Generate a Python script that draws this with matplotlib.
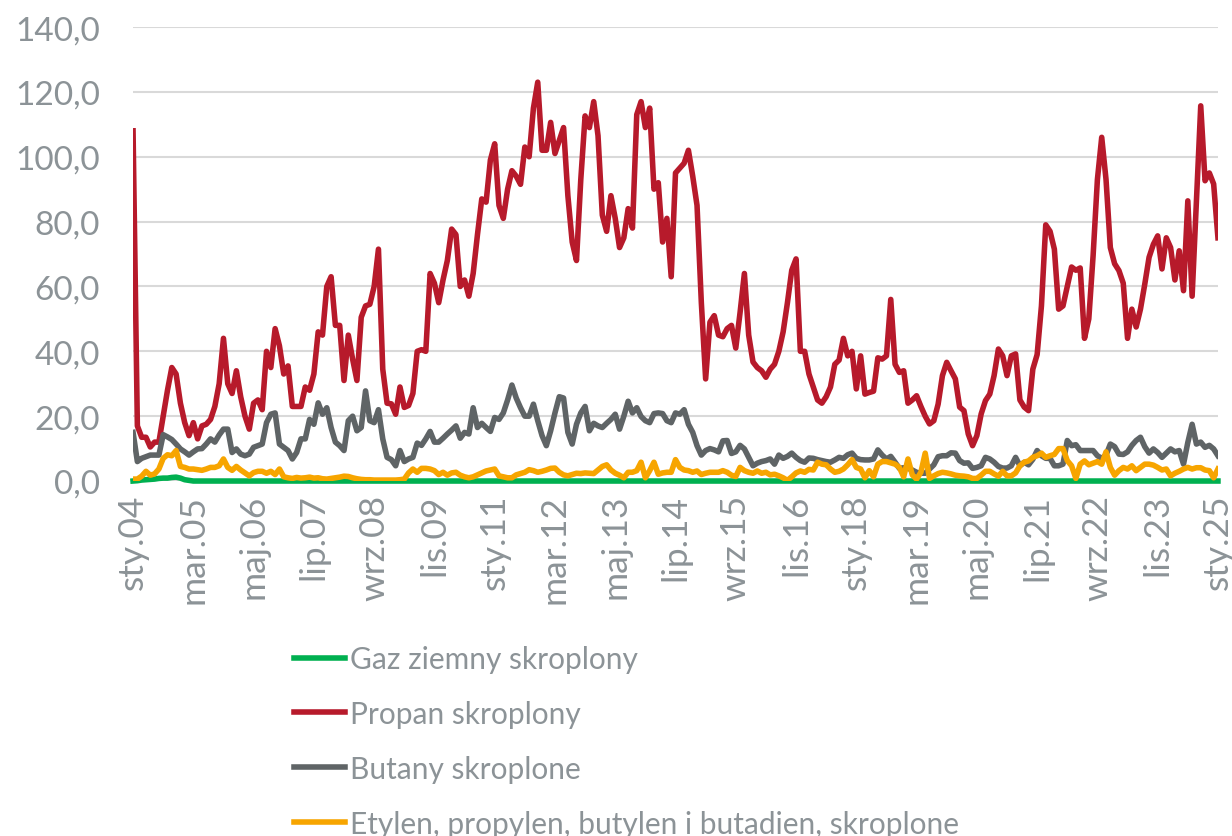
import numpy as np
import matplotlib
matplotlib.use("Agg")
import matplotlib.pyplot as plt

plt.rcParams['font.family'] = ['Lato', 'DejaVu Sans']

# monthly series, sty.2004 - sty.2025
gaz = [0, 0.1, 0.3, 0.4, 0.5, 0.6, 0.8, 0.9, 0.9, 1.1,
       1.2, 0.9, 0.4, 0.2, 0, 0, 0, 0, 0, 0,
       0, 0, 0, 0, 0, 0, 0, 0, 0, 0,
       0, 0, 0, 0, 0, 0, 0, 0, 0, 0,
       0, 0, 0, 0, 0, 0, 0, 0, 0, 0,
       0, 0, 0, 0, 0, 0, 0, 0, 0, 0,
       0, 0, 0, 0, 0, 0, 0, 0, 0, 0,
       0, 0, 0, 0, 0, 0, 0, 0, 0, 0,
       0, 0, 0, 0, 0, 0, 0, 0, 0, 0,
       0, 0, 0, 0, 0, 0, 0, 0, 0, 0,
       0, 0, 0, 0, 0, 0, 0, 0, 0, 0,
       0, 0, 0, 0, 0, 0, 0, 0, 0, 0,
       0, 0, 0, 0, 0, 0, 0, 0, 0, 0,
       0, 0, 0, 0, 0, 0, 0, 0, 0, 0,
       0, 0, 0, 0, 0, 0, 0, 0, 0, 0,
       0, 0, 0, 0, 0, 0, 0, 0, 0, 0,
       0, 0, 0, 0, 0, 0, 0, 0, 0, 0,
       0, 0, 0, 0, 0, 0, 0, 0, 0, 0,
       0, 0, 0, 0, 0, 0, 0, 0, 0, 0,
       0, 0, 0, 0, 0, 0, 0, 0, 0, 0,
       0, 0, 0, 0, 0, 0, 0, 0, 0, 0,
       0, 0, 0, 0, 0, 0, 0, 0, 0, 0,
       0, 0, 0, 0, 0, 0, 0, 0, 0, 0,
       0, 0, 0, 0, 0, 0, 0, 0, 0, 0,
       0, 0, 0, 0, 0, 0, 0, 0, 0, 0,
       0, 0, 0]

propan = [108, 17, 13.5, 13.5, 10.5, 12, 12, 20, 28, 35,
          33, 24, 18, 14, 18, 13, 17, 17.5, 19, 23,
          30, 44, 30, 27, 34, 26, 20, 16, 24, 25,
          22, 40, 35, 47, 41.7, 33, 35.5, 23, 23, 23,
          29, 28, 33, 46, 45, 60, 63, 48, 48, 31,
          45, 37.6, 31, 50.5, 54, 54.5, 60, 71.5, 34.5, 24,
          23.8, 20.6, 29, 22.7, 23.3, 27, 40, 40.5, 40, 64,
          61, 55, 62, 68, 77.7, 76, 60, 62, 57, 64,
          76, 87, 86, 99, 104, 85, 81, 90, 95.7, 94,
          91.5, 103, 100, 115, 123, 102, 102, 110.6, 101, 105,
          109, 88, 73.7, 68, 93, 112.6, 109, 117, 106.5, 82,
          77, 88, 81, 72, 75, 84, 78, 113, 117, 109,
          115, 90, 92, 73.7, 81, 63, 95, 96.5, 98, 102,
          94, 85, 55, 31.5, 49, 51, 45, 44.5, 47, 48,
          41, 52, 64, 45, 36.7, 35, 34, 32, 34.5, 36,
          40, 46, 55, 65, 68.5, 40, 40, 33, 29, 25,
          24, 26, 29, 36, 37.3, 44, 38.6, 40, 28.4, 38.6,
          26.8, 27.3, 27.7, 38, 37.6, 38.6, 56, 36, 33.5, 34,
          24, 25, 26.3, 23, 20, 17.6, 18.6, 23.7, 32.5, 36.6,
          34, 31.5, 22.8, 21.7, 14.5, 10.9, 14, 20.7, 24.8, 26.8,
          32.5, 40.7, 38.6, 32.5, 38.6, 39.2, 25, 22.8, 21.7, 34.5,
          39, 54, 79, 77, 71.5, 53, 54, 60, 66, 65,
          65.7, 44, 50, 69.5, 93, 106, 93, 72, 67, 64.9,
          61, 44, 53, 47.5, 53, 60.7, 69, 73, 75.6, 65.4,
          75, 72, 62, 71, 58.7, 86.4, 57, 86, 115.7, 92.6,
          95, 91.6, 75]

butany = [15, 6, 7, 7.5, 8, 8, 8, 14.3, 13.6, 12.8,
          11.4, 9.9, 9, 8, 9, 9.9, 10, 11.4, 13, 12,
          14.2, 16, 16, 8.8, 9.9, 8.3, 7.8, 8.3, 10.4, 10.9,
          11.4, 18, 20.6, 21, 11.4, 10.4, 9.4, 6.8, 8.8, 13,
          13, 19, 17.5, 24.1, 20.6, 22.6, 16.5, 12, 10.9, 9.4,
          18.6, 20, 15.5, 16.5, 27.8, 18.6, 18, 22, 13, 7.3,
          6.6, 4.7, 9.4, 6, 6.8, 7.3, 11.7, 11, 13, 15.3,
          12, 12, 13.2, 14.5, 15.7, 17, 13.2, 15, 14.5, 22.6,
          16.5, 17.8, 16.5, 15.3, 19.6, 19, 21, 25, 29.6, 25.6,
          22.6, 20, 20, 23.7, 18.6, 14, 10.9, 15.5, 21, 26,
          25.6, 15, 11.4, 17.5, 21, 23, 15.5, 17.8, 17, 16.5,
          17.8, 19, 20.6, 16, 20, 24.6, 21, 22.6, 19.9, 18.6,
          18, 20.8, 21, 20.8, 18.6, 18, 21, 20.6, 22, 17.5,
          15, 10.9, 8, 9.4, 10, 9.6, 9, 12.4, 12.5, 8.5,
          9, 11, 9.9, 7.3, 4.7, 5.5, 6, 6.3, 6.8, 5.2,
          8, 7, 7.6, 8.6, 7.3, 6.3, 5.8, 7.1, 7, 6.6,
          6.3, 6, 5.8, 6.5, 7.3, 7, 8.1, 8.6, 7, 6.6,
          6.5, 6.5, 6.8, 9.6, 8, 6.8, 7.6, 5.8, 3.9, 4.1,
          3.9, 3.4, 2.7, 2.4, 2.4, 3.7, 5, 7.5, 7.8, 7.8,
          8.7, 8.6, 6.3, 5.5, 5.6, 3.9, 4.2, 4.7, 7.3, 6.8,
          5.8, 4.5, 4, 4, 4.7, 7.3, 4.7, 5.8, 5, 6.7,
          9.4, 7.8, 7, 7, 4.7, 4.7, 5.2, 12.5, 10.9, 11.2,
          9.4, 9.4, 9.4, 9.4, 7.8, 7, 8, 11.4, 10.6, 8.3,
          8.2, 9, 11, 12.5, 13.5, 10.6, 8.6, 9.9, 8.8, 7.3,
          8.6, 9.9, 9, 9.4, 5.2, 11.9, 17.5, 11.4, 12, 10.4,
          11, 9.9, 7.8]

etylen = [0.6, 0.6, 1.5, 3, 1.8, 2.2, 3.7, 7, 8.1, 7.8,
          9.4, 4.5, 4.2, 3.7, 3.7, 3.5, 3.3, 3.7, 4.2, 4.2,
          4.7, 6.8, 4.2, 3.3, 4.5, 3.4, 2.5, 1.6, 2.6, 3,
          3, 2.4, 3, 2, 3.7, 1.3, 1, 0.8, 1.1, 0.9,
          1, 1.2, 0.9, 1, 0.7, 0.6, 0.8, 1, 1.2, 1.5,
          1.4, 1, 0.7, 0.5, 0.4, 0.4, 0.3, 0.3, 0.3, 0.3,
          0.3, 0.3, 0.4, 0.6, 2.5, 3.7, 2.7, 3.9, 3.9, 3.7,
          3.2, 2, 2.7, 1.8, 2.5, 2.7, 1.8, 1.3, 1, 1.3,
          1.9, 2.5, 3.1, 3.4, 3.7, 1.6, 1.3, 1, 1, 1.9,
          2.3, 2.7, 3.5, 3.2, 2.7, 3, 3.4, 3.9, 4, 2.7,
          1.9, 1.6, 2, 2.4, 2.3, 2.5, 2.4, 2.3, 3.4, 4.5,
          5, 3.4, 2.4, 1.8, 1, 2.7, 2.7, 3.2, 5.8, 1,
          3.2, 5.8, 2.1, 2.5, 2.7, 2.7, 6.6, 4.2, 3.4, 3.2,
          2.7, 3.1, 2, 2.4, 2.7, 2.7, 2.7, 3.2, 2.7, 1.8,
          1.4, 4.2, 3.2, 2.7, 2.4, 3.1, 2.4, 2.7, 1.9, 2.1,
          1.6, 1, 0.2, 1.3, 2.5, 3.1, 2.7, 3.6, 3.4, 5.8,
          5.2, 5, 3.7, 2.7, 3, 3.7, 5, 6.6, 4.2, 3.7,
          1, 3.2, 1.3, 5.2, 6, 6, 5.6, 5.2, 4.2, 1.3,
          6.8, 1.9, 0.6, 2.7, 8.6, 0.8, 1.6, 2.3, 2.7, 2.5,
          2.2, 1.8, 1.6, 1.5, 1.3, 0.8, 0.8, 1.8, 3, 3,
          2.2, 1.5, 3, 1.6, 1.6, 2.5, 4.7, 5.8, 6.2, 7.3,
          7.8, 8.6, 7.3, 7.8, 8.2, 10, 10, 6.3, 4.7, 0.8,
          5.2, 6.2, 5, 5.5, 6, 5.2, 9, 4.2, 1.8, 3.2,
          4.2, 3.7, 4.7, 3.2, 4.2, 5.2, 5.2, 4.9, 4.2, 3.4,
          3.7, 1.6, 2.4, 3, 3.7, 4.2, 3.7, 4.1, 4.1, 3.4,
          3.2, 1, 3.7]

miesiace = ['sty', 'lut', 'mar', 'kwi', 'maj', 'cze',
            'lip', 'sie', 'wrz', 'paź', 'lis', 'gru']
etykiety = [f"{miesiace[i % 12]}.{(4 + i // 12):02d}" for i in range(len(propan))]

szary = '#8c9397'

fig = plt.figure(figsize=(12.32, 8.37), dpi=100)
ax = fig.add_axes([0.108, 0.4241, 0.8806, 0.5424])

x = np.arange(len(propan))
lw = 4.0
ax.plot(x, gaz, color='#00b050', lw=lw, label='Gaz ziemny skroplony',
        solid_joinstyle='round', clip_on=False)
ax.plot(x, propan, color='#b71a2b', lw=lw, label='Propan skroplony',
        solid_joinstyle='round')
ax.plot(x, butany, color='#5f6466', lw=lw, label='Butany skroplone',
        solid_joinstyle='round')
ax.plot(x, etylen, color='#f7a500', lw=lw,
        label='Etylen, propylen, butylen i butadien, skroplone',
        solid_joinstyle='round')

ax.set_xlim(0, len(propan) - 1)
ax.set_ylim(0, 140)
ax.set_yticks(np.arange(0, 141, 20))
ax.set_yticklabels([f"{v:.1f}".replace('.', ',') for v in range(0, 141, 20)])
pozycje = list(range(0, len(propan), 14))
ax.set_xticks(pozycje)
ax.set_xticklabels([etykiety[i] for i in pozycje], rotation=90)

ax.grid(axis='y', color='#d9d9d9', lw=1.5)
ax.set_axisbelow(True)
for s in ax.spines.values():
    s.set_visible(False)
ax.tick_params(axis='x', length=0, labelsize=25.5, colors=szary, pad=9)
ax.tick_params(axis='y', length=0, labelsize=24, colors=szary, pad=24)

leg = fig.legend(loc='upper left', bbox_to_anchor=(0.229, 0.2425),
                 frameon=False, fontsize=21.5, handlelength=1.7,
                 handletextpad=0.17, labelspacing=0.9, borderaxespad=0)
for t in leg.get_texts():
    t.set_color(szary)

fig.savefig('out.png', dpi=100)
